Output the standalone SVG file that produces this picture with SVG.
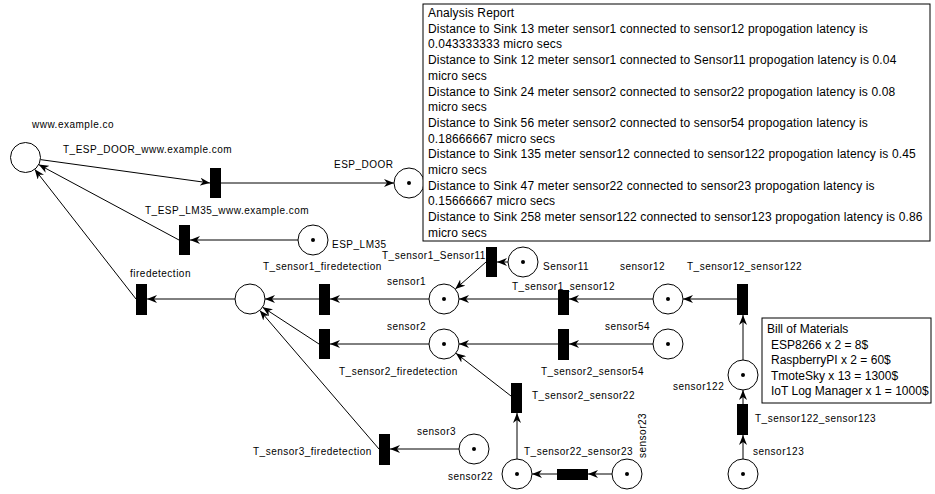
<svg xmlns="http://www.w3.org/2000/svg" width="935" height="494" viewBox="0 0 935 494">
<style>
text{font-family:"Liberation Sans",Arial,sans-serif;fill:#000}
.lbl{font-size:10px;letter-spacing:0.5px}
.rep{font-size:12px;letter-spacing:0.15px}
.bom{font-size:12px}
.pl{fill:#fff;stroke:#000;stroke-width:1}
.tok{fill:#000}
.tr{fill:#000}
.arc{stroke:#000;stroke-width:1;fill:none;marker-end:url(#ah)}
.box{fill:#fff;stroke:#000;stroke-width:1}
</style>
<defs>
<marker id="ah" markerUnits="userSpaceOnUse" markerWidth="10" markerHeight="8" refX="10" refY="4" orient="auto">
<path d="M0,0 L10,4 L0,8 L3,4 Z" fill="#000"/>
</marker>
</defs>
<rect width="935" height="494" fill="#fff"/>

<g id="connectors">
<line class="arc" x1="40.4" y1="159.6" x2="210" y2="183"/>
<line class="arc" x1="221" y1="183" x2="394" y2="183"/>
<line class="arc" x1="298" y1="240" x2="190" y2="240"/>
<line class="arc" x1="179" y1="240" x2="38.7" y2="164.6"/>
<line class="arc" x1="136" y1="299" x2="34.7" y2="169.3"/>
<line class="arc" x1="235" y1="299" x2="147" y2="299"/>
<line class="arc" x1="319" y1="299" x2="265" y2="299"/>
<line class="arc" x1="429" y1="299" x2="330" y2="299"/>
<line class="arc" x1="429" y1="344" x2="330" y2="344"/>
<line class="arc" x1="319" y1="344" x2="262.6" y2="307.2"/>
<line class="arc" x1="459" y1="449" x2="390" y2="449"/>
<line class="arc" x1="379" y1="449" x2="259.8" y2="310.4"/>
<line class="arc" x1="508" y1="262" x2="497" y2="262"/>
<line class="arc" x1="486" y1="262" x2="455.3" y2="289.1"/>
<line class="arc" x1="653" y1="299" x2="569" y2="299"/>
<line class="arc" x1="558" y1="299" x2="459" y2="299"/>
<line class="arc" x1="737" y1="299" x2="683" y2="299"/>
<line class="arc" x1="743" y1="360" x2="743" y2="315"/>
<line class="arc" x1="743" y1="404" x2="743" y2="390"/>
<line class="arc" x1="743" y1="459" x2="743" y2="435"/>
<line class="arc" x1="653" y1="344" x2="569" y2="344"/>
<line class="arc" x1="558" y1="344" x2="459" y2="344"/>
<line class="arc" x1="517" y1="459" x2="517" y2="413"/>
<line class="arc" x1="511" y1="396" x2="455.9" y2="353.2"/>
<line class="arc" x1="612" y1="474" x2="588" y2="474"/>
<line class="arc" x1="557" y1="474" x2="532" y2="474"/>
</g>

<g id="p_www">
<circle class="pl" cx="25.5" cy="157.5" r="15"/>
<text class="lbl" x="32" y="128">www.example.co</text>
</g>
<g id="t_esp_door">
<rect class="tr" x="210" y="168" width="11" height="30"/>
<text class="lbl" x="63" y="153">T_ESP_DOOR_www.example.com</text>
</g>
<g id="p_esp_door">
<circle class="pl" cx="409" cy="183" r="15"/>
<circle class="tok" cx="409" cy="183" r="2"/>
<text class="lbl" x="334" y="168">ESP_DOOR</text>
</g>
<g id="t_esp_lm35">
<rect class="tr" x="179" y="225" width="11" height="30"/>
<text class="lbl" x="145" y="214">T_ESP_LM35_www.example.com</text>
</g>
<g id="p_esp_lm35">
<circle class="pl" cx="313" cy="240" r="15"/>
<circle class="tok" cx="313" cy="240" r="2"/>
<text class="lbl" x="332" y="248" letter-spacing="0">ESP_LM35</text>
</g>
<g id="t_firedetection">
<rect class="tr" x="136" y="284" width="11" height="31"/>
<text class="lbl" x="130" y="277">firedetection</text>
</g>
<g id="p_center">
<circle class="pl" cx="250" cy="299" r="15"/>
</g>
<g id="t_sensor1_firedetection">
<rect class="tr" x="319" y="284" width="11" height="31"/>
<text class="lbl" x="263" y="270">T_sensor1_firedetection</text>
</g>
<g id="p_sensor1">
<circle class="pl" cx="444" cy="299" r="15"/>
<circle class="tok" cx="444" cy="299" r="2"/>
<text class="lbl" x="387" y="285">sensor1</text>
</g>
<g id="t_sensor2_firedetection">
<rect class="tr" x="319" y="329" width="11" height="30"/>
<text class="lbl" x="339" y="374.5">T_sensor2_firedetection</text>
</g>
<g id="p_sensor2">
<circle class="pl" cx="444" cy="344" r="15"/>
<circle class="tok" cx="444" cy="344" r="2"/>
<text class="lbl" x="387" y="330">sensor2</text>
</g>
<g id="t_sensor3_firedetection">
<rect class="tr" x="379" y="434" width="11" height="31"/>
<text class="lbl" x="253" y="455">T_sensor3_firedetection</text>
</g>
<g id="p_sensor3">
<circle class="pl" cx="474" cy="449" r="15"/>
<circle class="tok" cx="474" cy="449" r="2"/>
<text class="lbl" x="417" y="435">sensor3</text>
</g>
<g id="t_sensor1_sensor11">
<rect class="tr" x="486" y="247" width="11" height="30"/>
<text class="lbl" x="382" y="259">T_sensor1_Sensor11</text>
</g>
<g id="p_sensor11">
<circle class="pl" cx="523" cy="262" r="15"/>
<circle class="tok" cx="523" cy="262" r="2"/>
<text class="lbl" x="543" y="270">Sensor11</text>
</g>
<g id="t_sensor1_sensor12">
<rect class="tr" x="558" y="290" width="11" height="25"/>
<text class="lbl" x="512" y="289.5">T_sensor1_sensor12</text>
</g>
<g id="p_sensor12">
<circle class="pl" cx="668" cy="299" r="15"/>
<circle class="tok" cx="668" cy="299" r="2"/>
<text class="lbl" x="620" y="270">sensor12</text>
</g>
<g id="t_sensor12_sensor122">
<rect class="tr" x="737" y="284" width="11" height="31"/>
<text class="lbl" x="687" y="270">T_sensor12_sensor122</text>
</g>
<g id="p_sensor122">
<circle class="pl" cx="743" cy="375" r="15"/>
<circle class="tok" cx="743" cy="375" r="2"/>
<text class="lbl" x="673" y="390">sensor122</text>
</g>
<g id="t_sensor122_sensor123">
<rect class="tr" x="737" y="404" width="11" height="31"/>
<text class="lbl" x="755" y="422">T_sensor122_sensor123</text>
</g>
<g id="p_sensor123">
<circle class="pl" cx="743" cy="474" r="15"/>
<circle class="tok" cx="743" cy="474" r="2"/>
<text class="lbl" x="753" y="454.5">sensor123</text>
</g>
<g id="t_sensor2_sensor54">
<rect class="tr" x="558" y="329" width="11" height="31"/>
<text class="lbl" x="541" y="375">T_sensor2_sensor54</text>
</g>
<g id="p_sensor54">
<circle class="pl" cx="668" cy="344" r="15"/>
<circle class="tok" cx="668" cy="344" r="2"/>
<text class="lbl" x="605" y="330">sensor54</text>
</g>
<g id="t_sensor2_sensor22">
<rect class="tr" x="511" y="383" width="11" height="30"/>
<text class="lbl" x="532" y="398.5">T_sensor2_sensor22</text>
</g>
<g id="p_sensor22">
<circle class="pl" cx="517" cy="474" r="15"/>
<circle class="tok" cx="517" cy="474" r="2"/>
<text class="lbl" x="448" y="480">sensor22</text>
</g>
<g id="t_sensor22_sensor23">
<rect class="tr" x="557" y="469" width="31" height="11"/>
<text class="lbl" x="524" y="454.5">T_sensor22_sensor23</text>
</g>
<g id="p_sensor23">
<circle class="pl" cx="627" cy="474" r="15"/>
<circle class="tok" cx="627" cy="474" r="2"/>
<text class="lbl" transform="translate(646,458) rotate(-90)">sensor23</text>
</g>

<g id="analysis_report">
<rect class="box" x="423" y="4" width="507" height="237"/>
<text class="rep" x="428" y="17">Analysis Report</text>
<text class="rep" x="428" y="32.7">Distance to Sink 13 meter sensor1 connected to sensor12 propogation latency is</text>
<text class="rep" x="428" y="48.4">0.043333333 micro secs</text>
<text class="rep" x="428" y="64.1">Distance to Sink 12 meter sensor1 connected to Sensor11 propogation latency is 0.04</text>
<text class="rep" x="428" y="79.8">micro secs</text>
<text class="rep" x="428" y="95.5">Distance to Sink 24 meter sensor2 connected to sensor22 propogation latency is 0.08</text>
<text class="rep" x="428" y="111.2">micro secs</text>
<text class="rep" x="428" y="126.9">Distance to Sink 56 meter sensor2 connected to sensor54 propogation latency is</text>
<text class="rep" x="428" y="142.6">0.18666667 micro secs</text>
<text class="rep" x="428" y="158.3">Distance to Sink 135 meter sensor12 connected to sensor122 propogation latency is 0.45</text>
<text class="rep" x="428" y="174">micro secs</text>
<text class="rep" x="428" y="189.7">Distance to Sink 47 meter sensor22 connected to sensor23 propogation latency is</text>
<text class="rep" x="428" y="205.4">0.15666667 micro secs</text>
<text class="rep" x="428" y="221.1">Distance to Sink 258 meter sensor122 connected to sensor123 propogation latency is 0.86</text>
<text class="rep" x="428" y="236.8">micro secs</text>
</g>

<g id="bill_of_materials">
<rect class="box" x="762" y="318" width="169" height="85"/>
<text class="bom" x="767" y="333">Bill of Materials</text>
<text class="bom" x="771" y="348.5">ESP8266 x 2 = 8$</text>
<text class="bom" x="771" y="364">RaspberryPI x 2 = 60$</text>
<text class="bom" x="771" y="379.5">TmoteSky x 13 = 1300$</text>
<text class="bom" x="771" y="395">IoT Log Manager x 1 = 1000$</text>
</g>
</svg>
